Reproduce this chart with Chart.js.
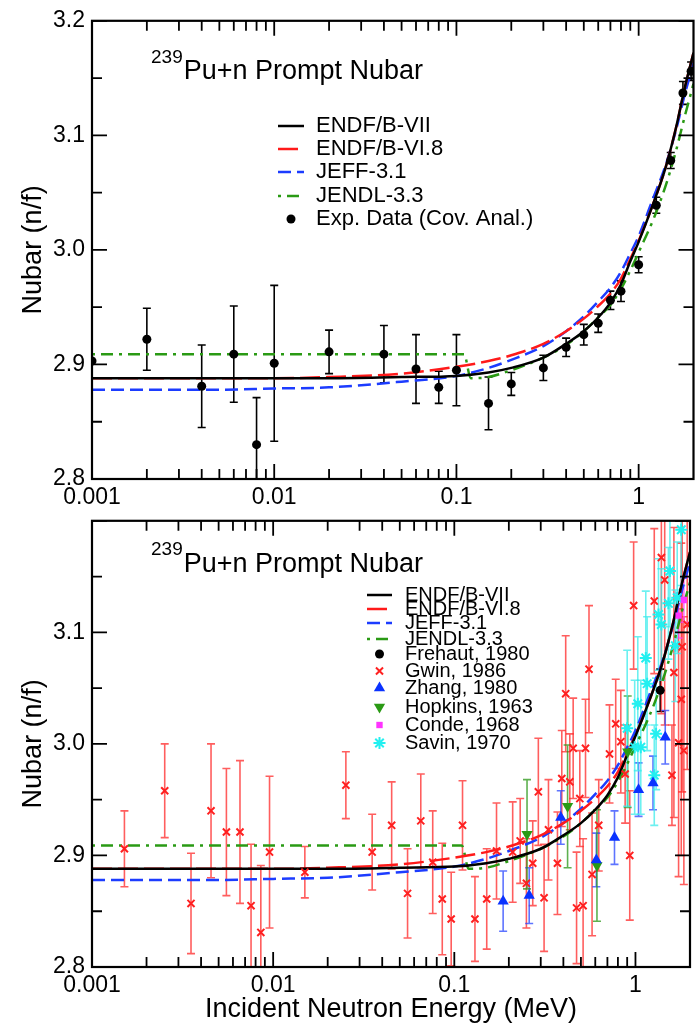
<!DOCTYPE html>
<html>
<head>
<meta charset="utf-8">
<script src="https://cdn.jsdelivr.net/npm/chart.js@4.4.1/dist/chart.umd.min.js"></script>
<style>
  body { margin: 0; background: #fff; width: 698px; height: 1029px; position: relative; overflow: hidden; }
  #topBox { position: absolute; left: 0; top: 0; }
  #botBox { position: absolute; left: 0; top: 500px; }
</style>
</head>
<body>
<div id="topBox"><canvas id="c1" width="698" height="510"></canvas></div>
<div id="botBox"><canvas id="c2" width="698" height="529"></canvas></div>
<script>
// ---- evaluated curves ----
var curveE   = [0.001, 0.002, 0.005, 0.01, 0.02, 0.05, 0.1, 0.15, 0.2, 0.3, 0.4, 0.5, 0.6, 0.7, 0.8, 0.9, 1.0, 1.2, 1.4, 1.6, 1.8, 2.0];
var endf7    = [2.888, 2.888, 2.888, 2.888, 2.888, 2.889, 2.890, 2.893, 2.897, 2.906, 2.918, 2.929, 2.941, 2.954, 2.970, 2.990, 3.007, 3.040, 3.071, 3.106, 3.143, 3.172];
var endf68   = [2.888, 2.888, 2.888, 2.888, 2.889, 2.892, 2.898, 2.903, 2.908, 2.918, 2.929, 2.940, 2.951, 2.962, 2.975, 2.992, 3.008, 3.040, 3.071, 3.106, 3.143, 3.172];
var jeff31   = [2.878, 2.878, 2.878, 2.879, 2.880, 2.885, 2.890, 2.897, 2.904, 2.916, 2.929, 2.942, 2.955, 2.967, 2.981, 2.997, 3.012, 3.045, 3.073, 3.104, 3.137, 3.163];
var jendlE   = [0.001, 0.01, 0.1, 0.11, 0.12, 0.15, 0.2, 0.3, 0.4, 0.5, 0.6, 0.7, 0.8, 0.9, 1.0, 1.2, 1.4, 1.6, 1.8, 2.0];
var jendl33  = [2.909, 2.909, 2.909, 2.909, 2.888, 2.889, 2.895, 2.906, 2.917, 2.929, 2.941, 2.952, 2.966, 2.982, 2.998, 3.026, 3.055, 3.086, 3.118, 3.145];

// ---- top panel: covariance analysis data ----
var expE   = [0.001, 0.002, 0.004, 0.006, 0.008, 0.01, 0.02, 0.04, 0.06, 0.08, 0.1, 0.15, 0.2, 0.3, 0.4, 0.5, 0.6, 0.7, 0.8, 1.0, 1.25, 1.5, 1.75, 1.94];
var expNu  = [2.903, 2.922, 2.881, 2.909, 2.830, 2.901, 2.911, 2.909, 2.896, 2.880, 2.895, 2.866, 2.883, 2.897, 2.915, 2.926, 2.936, 2.956, 2.964, 2.987, 3.039, 3.078, 3.137, 3.156];
var expErr = [0, 0.027, 0.036, 0.042, 0.041, 0.068, 0.019, 0.025, 0.030, 0.014, 0.031, 0.023, 0.010, 0.011, 0.008, 0.009, 0.008, 0.008, 0.009, 0.007, 0.007, 0.007, 0.010, 0.008];

// ---- bottom panel: individual experiments ----
var frehautE = [1.37];
var frehautNu = [3.048];
var frehautErr = [0.019];

var gwinE = [0.00151, 0.00252, 0.00352, 0.00454, 0.00552, 0.00656, 0.00755, 0.00855, 0.00955, 0.01496,
             0.0252, 0.0352, 0.0451, 0.0552, 0.0653, 0.076, 0.0858, 0.0961, 0.111, 0.130,
             0.151, 0.171, 0.210, 0.231, 0.250, 0.271, 0.291, 0.313, 0.331, 0.371,
             0.392, 0.412, 0.434, 0.453, 0.473, 0.493, 0.514, 0.530, 0.554, 0.576,
             0.627, 0.719, 0.778, 0.830, 0.877, 0.930, 0.977, 1.27, 1.39, 1.45,
             1.59, 1.63, 1.73, 1.79, 1.81, 1.85, 1.93];
var gwinNu = [2.906, 2.958, 2.857, 2.940, 2.921, 2.921, 2.855, 2.831, 2.903, 2.885,
              2.963, 2.903, 2.927, 2.866, 2.931, 2.894, 2.861, 2.843, 2.927, 2.843,
              2.861, 2.904, 2.903, 2.913, 2.875, 2.893, 2.957, 2.862, 2.923, 2.893,
              2.969, 3.045, 2.966, 2.996, 2.853, 2.951, 2.855, 2.996, 3.067, 2.883,
              2.927, 2.991, 3.018, 3.002, 2.973, 2.900, 3.124, 3.128, 3.167, 3.147,
              2.972, 3.064, 3.001, 3.040, 3.087, 2.994, 3.107];
var gwinErr = [0.034, 0.042, 0.045, 0.060, 0.057, 0.064, 0.055, 0.060, 0.068, 0.023,
               0.030, 0.034, 0.039, 0.040, 0.042, 0.046, 0.050, 0.042, 0.040, 0.038,
               0.045, 0.043, 0.045, 0.038, 0.040, 0.038, 0.048, 0.048, 0.045, 0.046,
               0.043, 0.052, 0.043, 0.045, 0.050, 0.043, 0.060, 0.044, 0.057, 0.055,
               0.041, 0.044, 0.040, 0.046, 0.044, 0.058, 0.057, 0.065, 0.140, 0.130,
               0.045, 0.130, 0.120, 0.140, 0.130, 0.120, 0.130];

var zhangE = [0.186, 0.259, 0.387, 0.608, 0.766, 1.04, 1.25, 1.46];
var zhangNu = [2.859, 2.864, 2.934, 2.896, 2.916, 2.959, 2.965, 3.006];
var zhangErr = [0.027, 0.025, 0.024, 0.024, 0.024, 0.024, 0.024, 0.024];

var hopkinsE = [0.252, 0.422, 0.613, 0.906];
var hopkinsNu = [2.919, 2.944, 2.891, 2.993];
var hopkinsErr = [0.049, 0.055, 0.050, 0.050];

var condeE = [1.73, 1.85];
var condeNu = [3.115, 3.129];
var condeErr = [0.02, 0.02];

var savinE = [0.90, 0.99, 1.03, 1.07, 1.14, 1.16, 1.27, 1.30, 1.34, 1.39, 1.52, 1.55, 1.66, 1.70, 1.79];
var savinNu = [3.014, 2.997, 3.036, 2.997, 3.077, 3.054, 2.972, 3.009, 3.116, 3.107, 3.126, 3.155, 3.088, 3.131, 3.192];
var savinErr = [0.07, 0.06, 0.06, 0.06, 0.06, 0.06, 0.045, 0.05, 0.05, 0.05, 0.05, 0.05, 0.05, 0.05, 0.05];

// ---- axes ----
var xLabelTicks = [0.001, 0.01, 0.1, 1];
var xMinorTicks = [0.002, 0.003, 0.004, 0.005, 0.006, 0.007, 0.008, 0.009,
                   0.02, 0.03, 0.04, 0.05, 0.06, 0.07, 0.08, 0.09,
                   0.2, 0.3, 0.4, 0.5, 0.6, 0.7, 0.8, 0.9];
var yTopTicks = [2.8, 2.9, 3.0, 3.1, 3.2];
var yBotTicks = [2.8, 2.9, 3.0, 3.1];
var yMinorTicks = [2.85, 2.95, 3.05, 3.15];

var FONT = '"Liberation Sans", Arial, Helvetica, sans-serif';

function pts(xs, ys) {
  return xs.map(function (v, i) { return { x: v, y: ys[i] }; });
}

function curve(label, xs, ys, color, dash) {
  return {
    label: label, data: pts(xs, ys), showLine: true,
    borderColor: color, borderWidth: 2.5, borderDash: dash,
    pointRadius: 0, cubicInterpolationMode: 'monotone', order: 1
  };
}

function marks(label, xs, ys, errs, style) {
  return Object.assign({
    label: label, data: pts(xs, ys), showLine: false, errors: errs, order: 0
  }, style);
}

function curveSets() {
  return [
    curve('ENDF/B-VII', curveE, endf7, '#000000', []),
    curve('ENDF/B-VI.8', curveE, endf68, '#ff1a1a', [20, 6]),
    curve('JEFF-3.1', curveE, jeff31, '#1c3cff', [13, 6]),
    curve('JENDL-3.3', jendlE, jendl33, '#2a9a14', [3, 6, 12, 6])
  ];
}

function fmtX(v) {
  var l = Math.round(Math.log10(v));
  return l < 0 ? v.toFixed(-l) : String(v);
}

// error bars, inward ticks, frame, title and legend
var nubarPlugin = {
  id: 'nubar',
  beforeDatasetsDraw: function (chart) {
    var ctx = chart.ctx, a = chart.chartArea, xs = chart.scales.x, ys = chart.scales.y;
    ctx.save();
    ctx.beginPath();
    ctx.rect(a.left, a.top, a.right - a.left, a.bottom - a.top);
    ctx.clip();
    chart.data.datasets.forEach(function (ds) {
      if (!ds.errors) return;
      ctx.strokeStyle = ds.errColor;
      ctx.lineWidth = 1.6;
      ds.data.forEach(function (p, i) {
        var e = ds.errors[i];
        if (!e) return;
        var px = xs.getPixelForValue(p.x);
        var y1 = ys.getPixelForValue(p.y + e), y2 = ys.getPixelForValue(p.y - e);
        ctx.beginPath();
        ctx.moveTo(px, y1); ctx.lineTo(px, y2);
        ctx.moveTo(px - 4, y1); ctx.lineTo(px + 4, y1);
        ctx.moveTo(px - 4, y2); ctx.lineTo(px + 4, y2);
        ctx.stroke();
      });
    });
    ctx.restore();
  },
  afterDraw: function (chart, args, o) {
    var ctx = chart.ctx, a = chart.chartArea, xs = chart.scales.x, ys = chart.scales.y;
    ctx.save();
    ctx.strokeStyle = '#000';
    ctx.lineWidth = 1.8;
    ctx.beginPath();
    function xt(v, len) {
      var px = xs.getPixelForValue(v);
      ctx.moveTo(px, a.bottom); ctx.lineTo(px, a.bottom - len);
      ctx.moveTo(px, a.top); ctx.lineTo(px, a.top + len);
    }
    function yt(v, len) {
      var py = ys.getPixelForValue(v);
      ctx.moveTo(a.left, py); ctx.lineTo(a.left + len, py);
      ctx.moveTo(a.right, py); ctx.lineTo(a.right - len, py);
    }
    xLabelTicks.forEach(function (v) { xt(v, 15); });
    xMinorTicks.forEach(function (v) { xt(v, 10); });
    yTopTicks.forEach(function (v) { yt(v, 15); });
    yMinorTicks.forEach(function (v) { yt(v, 10); });
    ctx.stroke();
    ctx.lineWidth = 2.2;
    ctx.strokeRect(a.left, a.top, a.right - a.left, a.bottom - a.top);

    // title with superscript mass number
    ctx.fillStyle = '#000';
    ctx.textAlign = 'left';
    ctx.textBaseline = 'alphabetic';
    ctx.font = '19px ' + FONT;
    ctx.fillText('239', o.titleX, o.supY);
    var w = ctx.measureText('239').width;
    ctx.font = '27px ' + FONT;
    ctx.fillText('Pu+n Prompt Nubar', o.titleX + w + 1, o.titleY);

    // legend
    var lg = o.legend;
    ctx.font = lg.size + 'px ' + FONT;
    ctx.textBaseline = 'middle';
    chart.data.datasets.forEach(function (ds, i) {
      var yy = lg.rows[i];
      ctx.save();
      if (ds.showLine) {
        ctx.strokeStyle = ds.borderColor;
        ctx.lineWidth = 2.5;
        ctx.setLineDash(ds.borderDash);
        ctx.beginPath();
        ctx.moveTo(lg.x1, yy); ctx.lineTo(lg.x2, yy);
        ctx.stroke();
      } else {
        ctx.fillStyle = ds.pointBackgroundColor;
        ctx.strokeStyle = ds.pointBorderColor;
        ctx.lineWidth = ds.pointBorderWidth;
        Chart.helpers.drawPoint(ctx, {
          pointStyle: ds.pointStyle, radius: ds.pointRadius,
          rotation: ds.pointRotation || 0, borderWidth: ds.pointBorderWidth
        }, (lg.x1 + lg.x2) / 2, yy);
      }
      ctx.restore();
      ctx.fillStyle = '#000';
      ctx.fillText(ds.label, lg.tx, yy);
    });
    ctx.restore();
  }
};

function makeChart(id, datasets, cfg) {
  return new Chart(document.getElementById(id), {
    type: 'scatter',
    data: { datasets: datasets },
    options: {
      responsive: false,
      animation: false,
      devicePixelRatio: 1,
      layout: { padding: { top: cfg.padTop, right: 1, left: 0, bottom: 0 } },
      plugins: { legend: { display: false }, tooltip: { enabled: false }, nubar: cfg.deco },
      scales: {
        x: {
          type: 'logarithmic', min: 0.001, max: 2,
          grid: { display: false, drawTicks: false }, border: { display: false },
          afterBuildTicks: function (s) { s.ticks = xLabelTicks.map(function (v) { return { value: v }; }); },
          afterFit: function (s) { s.height = cfg.xHeight; },
          ticks: {
            color: '#000', font: { family: FONT, size: 23 }, padding: 5,
            maxRotation: 0, autoSkip: false,
            callback: function (v) { return fmtX(v); }
          },
          title: {
            display: cfg.xTitle, text: 'Incident Neutron Energy (MeV)', color: '#000',
            font: { family: FONT, size: 27 }, padding: { top: 0, bottom: 3 }
          }
        },
        y: {
          min: 2.8, max: 3.2,
          grid: { display: false, drawTicks: false }, border: { display: false },
          afterBuildTicks: function (s) { s.ticks = cfg.yTicks.map(function (v) { return { value: v }; }); },
          afterFit: function (s) { s.width = 92; },
          ticks: {
            color: '#000', font: { family: FONT, size: 23 }, padding: 7,
            callback: function (v) { return v.toFixed(1); }
          },
          title: {
            display: true, text: 'Nubar (n/f)', color: '#000',
            font: { family: FONT, size: 27 }, padding: { top: 17, bottom: 0 }
          }
        }
      }
    },
    plugins: [nubarPlugin]
  });
}

var topSets = curveSets().concat([
  marks('Exp. Data (Cov. Anal.)', expE, expNu, expErr, {
    pointStyle: 'circle', pointRadius: 4.5, pointBackgroundColor: '#000',
    pointBorderColor: '#000', pointBorderWidth: 0, errColor: '#000'
  })
]);

var botSets = curveSets().concat([
  marks('Frehaut, 1980', frehautE, frehautNu, frehautErr, {
    pointStyle: 'circle', pointRadius: 4.5, pointBackgroundColor: '#000',
    pointBorderColor: '#000', pointBorderWidth: 0, errColor: '#000'
  }),
  marks('Gwin, 1986', gwinE, gwinNu, gwinErr, {
    pointStyle: 'crossRot', pointRadius: 5, pointBackgroundColor: '#ff2020',
    pointBorderColor: '#ff2020', pointBorderWidth: 2, errColor: 'rgba(255,40,40,0.75)'
  }),
  marks('Zhang, 1980', zhangE, zhangNu, zhangErr, {
    pointStyle: 'triangle', pointRadius: 6.5, pointBackgroundColor: '#0a32ff',
    pointBorderColor: '#0a32ff', pointBorderWidth: 0, errColor: 'rgba(40,70,255,0.75)'
  }),
  marks('Hopkins, 1963', hopkinsE, hopkinsNu, hopkinsErr, {
    pointStyle: 'triangle', pointRotation: 180, pointRadius: 6.5, pointBackgroundColor: '#2a9a14',
    pointBorderColor: '#2a9a14', pointBorderWidth: 0, errColor: 'rgba(40,150,20,0.75)'
  }),
  marks('Conde, 1968', condeE, condeNu, condeErr, {
    pointStyle: 'rect', pointRadius: 4.5, pointBackgroundColor: '#ff33ff',
    pointBorderColor: '#ff33ff', pointBorderWidth: 0, errColor: 'rgba(255,60,255,0.75)'
  }),
  marks('Savin, 1970', savinE, savinNu, savinErr, {
    pointStyle: 'star', pointRadius: 6, pointBackgroundColor: '#22f0f0',
    pointBorderColor: '#22f0f0', pointBorderWidth: 2, errColor: 'rgba(60,235,235,0.75)'
  })
]);

makeChart('c1', topSets, {
  padTop: 16, xHeight: 31, xTitle: false, yTicks: yTopTicks,
  deco: {
    titleX: 151, supY: 63, titleY: 79,
    legend: { x1: 278, x2: 304, tx: 316, size: 22, rows: [126, 149, 172, 196, 219] }
  }
});

makeChart('c2', botSets, {
  padTop: 9, xHeight: 62, xTitle: true, yTicks: yBotTicks,
  deco: {
    titleX: 151, supY: 55, titleY: 72,
    legend: { x1: 367, x2: 392, tx: 405, size: 20, rows: [95, 109, 123, 139, 154, 171, 188, 207, 225, 243] }
  }
});
</script>
</body>
</html>
